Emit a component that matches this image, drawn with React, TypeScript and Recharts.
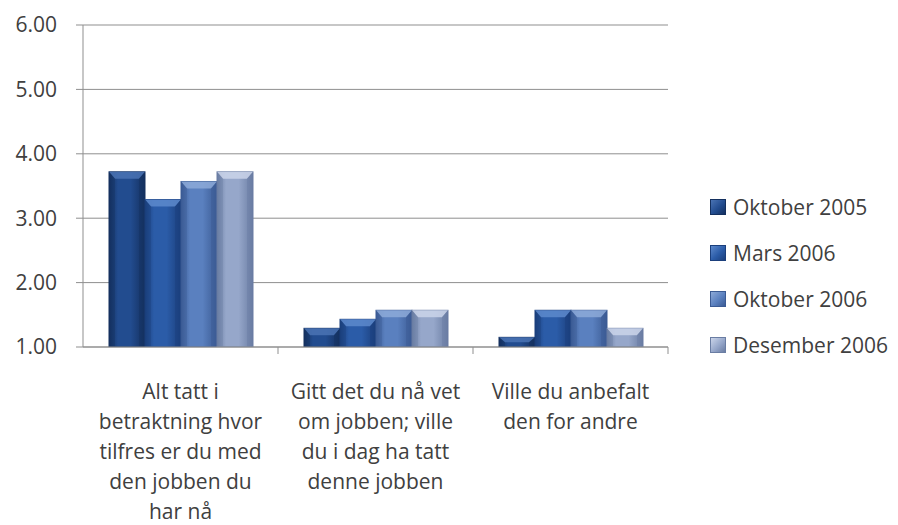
import { BarChart, Bar, XAxis, YAxis, CartesianGrid } from 'recharts';

const categories = [
  'Alt tatt i betraktning hvor tilfres er du med den jobben du har nå',
  'Gitt det du nå vet om jobben; ville du i dag ha tatt denne jobben',
  'Ville du anbefalt den for andre',
];

// line breaks as in the original axis labels
const categoryLines = [
  ['Alt tatt i', 'betraktning hvor', 'tilfres er du med', 'den jobben du', 'har nå'],
  ['Gitt det du nå vet', 'om jobben; ville', 'du i dag ha tatt', 'denne jobben'],
  ['Ville du anbefalt', 'den for andre'],
];

const oktober2005 = [3.72, 1.29, 1.15];
const mars2006 = [3.29, 1.43, 1.57];
const oktober2006 = [3.57, 1.57, 1.57];
const desember2006 = [3.72, 1.57, 1.29];

const yTicks = [1, 2, 3, 4, 5, 6];

const series = [
  { key: 'okt2005', name: 'Oktober 2005', values: oktober2005, base: '#224c8f', dark: '#14305f', light: '#4a73b4' },
  { key: 'mar2006', name: 'Mars 2006', values: mars2006, base: '#2b5ca8', dark: '#1b3f7c', light: '#5d89cc' },
  { key: 'okt2006', name: 'Oktober 2006', values: oktober2006, base: '#5a80bf', dark: '#3b5b94', light: '#8daad8' },
  { key: 'des2006', name: 'Desember 2006', values: desember2006, base: '#96a7ca', dark: '#6a7da3', light: '#cbd5ea' },
];

const data = categories.map((name, i) => {
  const row: { [key: string]: string | number } = { name };
  series.forEach((s) => {
    row[s.key] = s.values[i];
  });
  return row;
});

const FONT = '"Open Sans", sans-serif';
const TEXT = '#404040';
const GRID = '#8f8f8f';

const WIDTH = 890;
const HEIGHT = 517;
const LEFT = 75;
const RIGHT = 230;
const BAND = (WIDTH - LEFT - RIGHT) / categories.length;

function bevelShape(s: typeof series[number]) {
  return (props: any) => {
    const { x, y, width, height } = props;
    if (!height || height <= 0) return <g />;
    const b = Math.min(7, height / 2);
    const inset = Math.min(6, width / 4);
    return (
      <g>
        <rect x={x} y={y} width={width} height={height} fill={`url(#grad-${s.key})`} stroke={s.dark} strokeWidth={1} />
        <polygon
          points={`${x},${y} ${x + width},${y} ${x + width - inset},${y + b} ${x + inset},${y + b}`}
          fill={s.light}
          opacity={0.85}
        />
        <polygon
          points={`${x},${y} ${x + inset},${y + b} ${x + inset},${y + height} ${x},${y + height}`}
          fill={s.dark}
          opacity={0.35}
        />
        <polygon
          points={`${x + width},${y} ${x + width - inset},${y + b} ${x + width - inset},${y + height} ${x + width},${y + height}`}
          fill={s.dark}
          opacity={0.45}
        />
      </g>
    );
  };
}

function CategoryTick(props: any) {
  const { x, y, index } = props;
  const lines = categoryLines[index] || [];
  return (
    <g>
      <line x1={x + BAND / 2} y1={y} x2={x + BAND / 2} y2={y + 7} stroke={GRID} />
      <text x={x} y={y + 52} textAnchor="middle" fill={TEXT} fontSize={21} fontFamily={FONT}>
        {lines.map((line, i) => (
          <tspan key={i} x={x} dy={i === 0 ? 0 : 30}>
            {line}
          </tspan>
        ))}
      </text>
    </g>
  );
}

function LegendBox() {
  return (
    <div style={{ position: 'absolute', left: 702, top: 176, fontFamily: FONT, fontSize: 21, color: TEXT }}>
      {series.map((s) => (
        <div key={s.key} style={{ height: 46, display: 'flex', alignItems: 'center' }}>
          <span
            style={{
              display: 'inline-block',
              width: 14,
              height: 14,
              marginRight: 7,
              background: `linear-gradient(135deg, ${s.light}, ${s.base} 55%, ${s.dark})`,
              border: `1px solid ${s.dark}`,
            }}
          />
          <span>{s.name}</span>
        </div>
      ))}
    </div>
  );
}

export default function App() {
  return (
    <div style={{ position: 'relative', width: WIDTH, height: HEIGHT, background: '#fff' }}>
      <BarChart
        width={WIDTH}
        height={HEIGHT}
        data={data}
        margin={{ top: 17, right: RIGHT, left: 0, bottom: 0 }}
        barCategoryGap={26}
        barGap={0}
      >
        <defs>
          {series.map((s) => (
            <linearGradient key={s.key} id={`grad-${s.key}`} x1="0" y1="0" x2="1" y2="0">
              <stop offset="0%" stopColor={s.dark} />
              <stop offset="25%" stopColor={s.base} />
              <stop offset="60%" stopColor={s.base} />
              <stop offset="100%" stopColor={s.dark} />
            </linearGradient>
          ))}
        </defs>
        <CartesianGrid vertical={false} stroke={GRID} strokeWidth={1} />
        <XAxis
          dataKey="name"
          height={178}
          interval={0}
          tickLine={false}
          tickSize={0}
          tickMargin={0}
          axisLine={{ stroke: GRID }}
          tick={<CategoryTick />}
        />
        <YAxis
          width={LEFT}
          domain={[1, 6]}
          ticks={yTicks}
          allowDataOverflow
          tickFormatter={(v: number) => v.toFixed(2)}
          tickSize={7}
          tickMargin={19}
          axisLine={{ stroke: GRID }}
          tickLine={{ stroke: GRID }}
          tick={{ fill: TEXT, fontSize: 21, fontFamily: FONT }}
        />
        {series.map((s) => (
          <Bar
            key={s.key}
            dataKey={s.key}
            name={s.name}
            fill={s.base}
            isAnimationActive={false}
            shape={bevelShape(s)}
          />
        ))}
      </BarChart>
      <LegendBox />
    </div>
  );
}
